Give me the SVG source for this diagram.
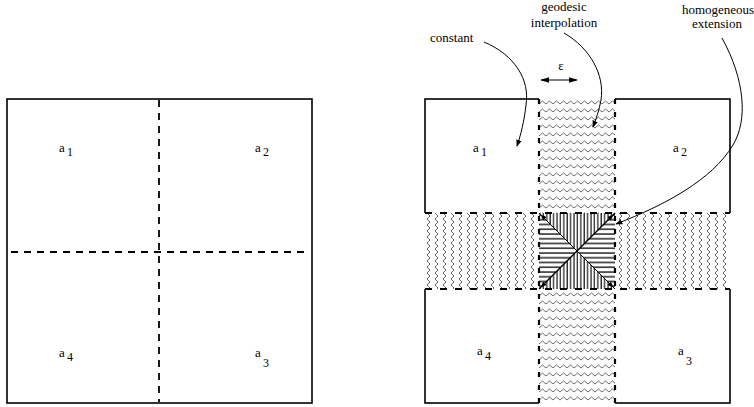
<svg xmlns="http://www.w3.org/2000/svg" width="754" height="407" viewBox="0 0 754 407">
<style>
.box{fill:none;stroke:#000;stroke-width:1.6}
.dl{stroke:#000;stroke-width:1.8;stroke-dasharray:7 6;fill:none}
.dv{stroke:#000;stroke-width:2.2;stroke-dasharray:5 8;fill:none}
.dh{stroke:#000;stroke-width:2.2;stroke-dasharray:7 8;fill:none}
text{font-family:"Liberation Serif","DejaVu Serif",serif;fill:#000}
.t{font-size:13px}
.s{font-size:12px}
.c{fill:none;stroke:#000;stroke-width:1}
.zz{fill:none;stroke:#5a5a5a;stroke-width:0.9}
</style>
<defs>
<pattern id="zzH" patternUnits="userSpaceOnUse" x="539" y="99" width="7" height="8">
<path class="zz" d="M0,5 L3.5,2 L7,5"/>
</pattern>
<pattern id="zzV" patternUnits="userSpaceOnUse" x="425" y="213" width="8" height="6">
<path class="zz" d="M2,0 L5,3 L2,6"/>
</pattern>
<pattern id="vl" patternUnits="userSpaceOnUse" x="539" y="213" width="3.4" height="10">
<line x1="1" y1="0" x2="1" y2="10" stroke="#000" stroke-width="1.1"/>
</pattern>
<pattern id="hl" patternUnits="userSpaceOnUse" x="539" y="213" width="10" height="4.75">
<line x1="0" y1="2" x2="10" y2="2" stroke="#000" stroke-width="1.3"/>
</pattern>
<marker id="ah" viewBox="0 0 10 10" refX="9" refY="5" markerWidth="7" markerHeight="7" orient="auto" markerUnits="userSpaceOnUse">
<path d="M0,1 L10,5 L0,9 Z" fill="#000"/>
</marker>
<marker id="as" viewBox="0 0 10 10" refX="9" refY="5" markerWidth="6" markerHeight="6" orient="auto" markerUnits="userSpaceOnUse">
<path d="M0,1 L10,5 L0,9 Z" fill="#000"/>
</marker>
<marker id="ae" viewBox="0 0 10 10" refX="9" refY="5" markerWidth="9" markerHeight="9" orient="auto-start-reverse" markerUnits="userSpaceOnUse">
<path d="M0,2 L10,5 L0,8 Z" fill="#000"/>
</marker>
</defs>
<rect width="754" height="407" fill="#fff"/>

<g id="left-panel">
<rect class="box" x="7" y="99" width="305" height="304"/>
<line class="dl" x1="159" y1="100" x2="159" y2="402"/>
<line class="dl" x1="11" y1="252" x2="309" y2="252"/>
<text class="t" x="59" y="152" font-family="Liberation Serif, serif">a</text><text class="s" x="67" y="156" font-family="Liberation Serif, serif">1</text>
<text class="t" x="255" y="152" font-family="Liberation Serif, serif">a</text><text class="s" x="263" y="156" font-family="Liberation Serif, serif">2</text>
<text class="t" x="59" y="357" font-family="Liberation Serif, serif">a</text><text class="s" x="67" y="361" font-family="Liberation Serif, serif">4</text>
<text class="t" x="255" y="357" font-family="Liberation Serif, serif">a</text><text class="s" x="263" y="367" font-family="Liberation Serif, serif">3</text>
</g>

<g id="right-panel">
<rect class="box" x="425" y="99" width="305" height="304"/>
<g id="geodesic-band-vertical">
<rect x="539" y="98" width="76" height="306" fill="#fff"/>
<rect x="539" y="98" width="76" height="306" fill="url(#zzH)"/>
</g>
<g id="geodesic-band-horizontal">
<rect x="424" y="213" width="307" height="76" fill="#fff"/>
<rect x="424" y="213" width="307" height="76" fill="url(#zzV)"/>
</g>
<g id="center-square">
<rect x="539" y="213" width="76" height="76" fill="#fff"/>
<polygon points="539,213 615,213 577,251" fill="url(#vl)"/>
<polygon points="539,289 615,289 577,251" fill="url(#vl)"/>
<polygon points="539,213 539,289 577,251" fill="url(#hl)"/>
<polygon points="615,213 615,289 577,251" fill="url(#hl)"/>
<line x1="539" y1="289" x2="615" y2="213" stroke="#000" stroke-width="1.4"/>
<line x1="539" y1="213" x2="615" y2="289" stroke="#000" stroke-width="1"/>
<line x1="550" y1="224" x2="541" y2="215" stroke="#000" stroke-width="1" marker-end="url(#as)"/>
<line x1="550" y1="278" x2="541" y2="287" stroke="#000" stroke-width="1" marker-end="url(#as)"/>
<line x1="604" y1="278" x2="613" y2="287" stroke="#000" stroke-width="1" marker-end="url(#as)"/>
<line x1="604" y1="224" x2="613" y2="215" stroke="#000" stroke-width="1" marker-end="url(#as)"/>
</g>
<line class="dv" x1="539" y1="99" x2="539" y2="403"/>
<line class="dv" x1="615" y1="99" x2="615" y2="403"/>
<line class="dh" x1="425" y1="213" x2="730" y2="213"/>
<line class="dh" x1="425" y1="289" x2="730" y2="289"/>
<text class="t" x="473" y="152" font-family="Liberation Serif, serif">a</text><text class="s" x="481" y="156" font-family="Liberation Serif, serif">1</text>
<text class="t" x="673" y="152" font-family="Liberation Serif, serif">a</text><text class="s" x="681" y="156" font-family="Liberation Serif, serif">2</text>
<text class="t" x="477" y="355" font-family="Liberation Serif, serif">a</text><text class="s" x="485" y="360" font-family="Liberation Serif, serif">4</text>
<text class="t" x="678" y="355" font-family="Liberation Serif, serif">a</text><text class="s" x="686" y="365" font-family="Liberation Serif, serif">3</text>
</g>

<g id="label-constant"><text class="t" x="430" y="42" font-family="Liberation Serif, serif">constant</text></g>
<g id="label-geodesic">
<text class="t" x="564" y="11" text-anchor="middle" font-family="Liberation Serif, serif">geodesic</text>
<text class="t" x="564" y="27" text-anchor="middle" font-family="Liberation Serif, serif">interpolation</text>
</g>
<g id="label-homogeneous">
<text class="t" x="718" y="14" text-anchor="middle" font-family="Liberation Serif, serif">homogeneous</text>
<text class="t" x="717" y="28" text-anchor="middle" font-family="Liberation Serif, serif">extension</text>
</g>
<g id="label-epsilon"><text class="t" x="561" y="70" text-anchor="middle" font-family="Liberation Serif, serif">ε</text></g>

<g id="connectors">
<path class="c" d="M484,42 C515,55 530,80 526,105 C524,122 521,134 517,146" marker-end="url(#ah)"/>
<path class="c" d="M564,33 C590,48 605,75 601,100 C599,111 596,119 593,127" marker-end="url(#ah)"/>
<path class="c" d="M722,38 C745,80 748,120 733,145 C712,180 665,205 616,224" marker-end="url(#ah)"/>
<line class="c" x1="541" y1="80" x2="577" y2="80" stroke-width="1.2" marker-start="url(#ae)" marker-end="url(#ae)"/>
</g>
</svg>
